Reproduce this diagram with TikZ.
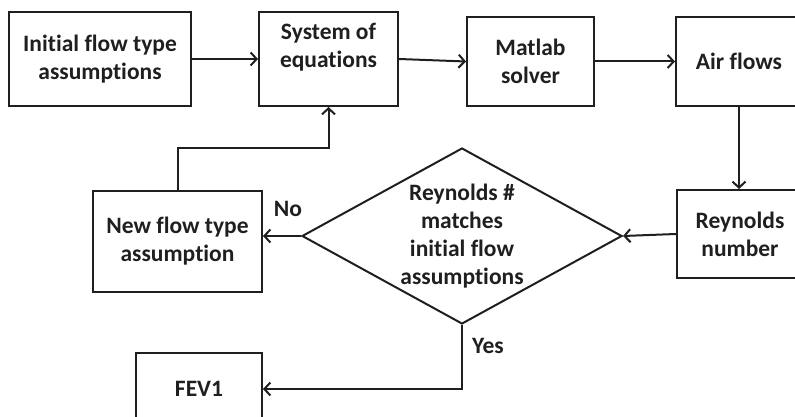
\documentclass[tikz,border=0pt]{standalone}
\usepackage{fontspec}
\setmainfont{Carlito}[Ligatures=NoCommon]
\usetikzlibrary{shapes.geometric,arrows.meta}
\tikzset{
  box/.style={draw, line width=2pt, inner sep=0pt, align=center},
  decision/.style={draw, diamond, line width=2pt, inner sep=0pt, minimum width=320, minimum height=176},
  flow/.style={line width=2pt, ->},
}
\begin{document}
\begin{tikzpicture}[x=1pt, y=1pt, font=\fontsize{23.5}{28}\selectfont\bfseries, line join=miter, >={Straight Barb[length=6pt,width=13pt]}, color=black!88]
		\useasboundingbox (0,0) rectangle (795,417);
		% top row
		\node[box, minimum width=182, minimum height=94] (init) at (100,358) {Initial flow type\\assumptions};
		\node[box, minimum width=139, minimum height=94] (sys) at (328.5,358) {System of\\equations\\\phantom{x}};
		\node[box, minimum width=127, minimum height=89] (solver) at (530.5,355.5) {Matlab\\solver};
		\node[box, minimum width=126, minimum height=89] (air) at (739,355.5) {Air flows};
		% middle row
		\node[box, minimum width=126, minimum height=88] (reyn) at (740,183) {Reynolds\\number};
		\node[decision, label={[align=center]center:Reynolds \#\\matches\\initial flow\\assumptions}] (dec) at (462,181) {};
		\node[box, minimum width=169, minimum height=101] (newflow) at (177.5,175.5) {New flow type\\assumption};
		% bottom
		\node[box, minimum width=126, minimum height=72] (fev) at (199,28) {FEV1};
		\coordinate (bend) at (328.5,269);
		% connectors
		\draw[flow] (init) -- (sys);
		\draw[flow] (sys.east) -- (solver.west);
		\draw[flow] (solver) -- (air);
		\draw[flow] (air) -- (reyn.north -| air.south);
		\draw[flow] (reyn.west) -- (dec.east);
		\draw[flow] (dec.west) -- (dec.west -| newflow.east);
		\draw[flow] (newflow.north) |- (bend) -- (sys.south);
		\draw[flow] (dec.south) |- (fev.east);
		\node (no) at (288,208) {No};
		\node (yes) at (488,71) {Yes};
		\end{tikzpicture}
\end{document}
